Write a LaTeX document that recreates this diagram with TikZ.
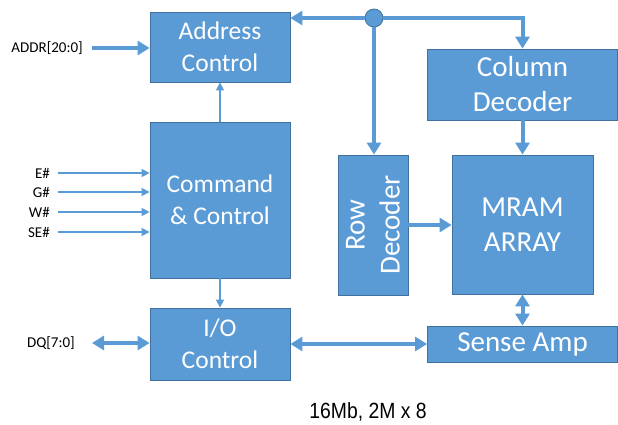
\documentclass[tikz,border=0pt]{standalone}
\usepackage{fontspec}
\setmainfont{Carlito}
\newfontfamily\capfont[FakeStretch=0.88]{Liberation Sans}
\usetikzlibrary{arrows.meta}
\definecolor{boxfill}{HTML}{5B9BD5}
\definecolor{boxline}{HTML}{41719C}
\begin{document}
\begin{tikzpicture}[x=1pt,y=-1pt,
 blk/.style={draw=boxline, line width=0.8pt, fill=boxfill, text=white, font=\fontsize{25.5}{32}\selectfont, align=center, inner sep=0pt},
 bigtext/.style={font=\fontsize{29}{35}\selectfont},
 blktext/.style={text=white, font=\fontsize{29}{35}\selectfont, align=center, inner sep=0pt},
 bus/.style={draw=boxfill, line width=4pt, -{Triangle[length=12pt,width=14pt]}},
 dbus/.style={draw=boxfill, line width=4pt, {Triangle[length=12pt,width=14pt]}-{Triangle[length=12pt,width=14pt]}},
 sig/.style={draw=boxfill, line width=1.5pt, -{Triangle[length=8pt,width=8pt]}},
 lbl/.style={font=\fontsize{15}{18}\selectfont, text=black, inner sep=0pt}]
\useasboundingbox (0,0) rectangle (618,425);
% blocks
\node[blk, minimum width=140, minimum height=70] (addr) at (220,47) {Address\\Control};
\node[blk, minimum width=140, minimum height=156] (cmd) at (220,200) {Command\\\& Control};
\node[blk, minimum width=140, minimum height=72] (io) at (220,344) {I/O\\Control};
\node[blk, bigtext, minimum width=190, minimum height=71] (col) at (522.5,84.5) {Column\\Decoder};
\node[blk, minimum width=70, minimum height=140] (row) at (373,225) {};
\node[blktext, rotate=90] (rowtxt) at (row.center) {Row\\Decoder};
\node[blk, bigtext, minimum width=141, minimum height=139] (mram) at (522.5,224.5) {MRAM\\ARRAY};
\node[blk, bigtext, minimum width=190, minimum height=36] (sense) at (522.5,344) {Sense Amp};
\node[circle, fill=boxfill, draw=boxline, line width=0.8pt, minimum size=18, inner sep=0pt] (junc) at (374,18) {};
% labels
\node[lbl, anchor=east] (addrl) at (83,48) {ADDR[20:0]};
\node[lbl, anchor=east] (dql) at (75,343) {DQ[7:0]};
\node[lbl, anchor=east] (el) at (50,173) {E\#};
\node[lbl, anchor=east] (gl) at (50,192) {G\#};
\node[lbl, anchor=east] (wl) at (50,212) {W\#};
\node[lbl, anchor=east] (sel) at (50,232) {SE\#};
\coordinate (addrin) at (92,48);
\coordinate (dqin) at (92,343);
\coordinate (ein) at (58,173);
\coordinate (gin) at (58,192);
\coordinate (win) at (58,212);
\coordinate (sein) at (58,232);
% connectors
\draw[bus] (addrin) -- (addrin -| addr.west);
\draw[bus] (junc) -- (junc -| addr.east);
\draw[bus] (junc) -| (col.north);
\draw[bus] (junc) -- (junc |- row.north);
\draw[bus] (col.south) -- (col.south |- mram.north);
\draw[bus] (row.east) -- (row.east -| mram.west);
\draw[dbus] (mram.south) -- (mram.south |- sense.north);
\draw[dbus] (io.east) -- (io.east -| sense.west);
\draw[dbus] (dqin) -- (dqin -| io.west);
\draw[sig] (ein) -- (ein -| cmd.west);
\draw[sig] (gin) -- (gin -| cmd.west);
\draw[sig] (win) -- (win -| cmd.west);
\draw[sig] (sein) -- (sein -| cmd.west);
\draw[sig] (cmd.north) -- (addr.south);
\draw[sig] (cmd.south) -- (io.north);
% caption
\node[font=\capfont\fontsize{22}{26}\selectfont, inner sep=0pt] (cap) at (368,412) {16Mb, 2M x 8};
\end{tikzpicture}
\end{document}
